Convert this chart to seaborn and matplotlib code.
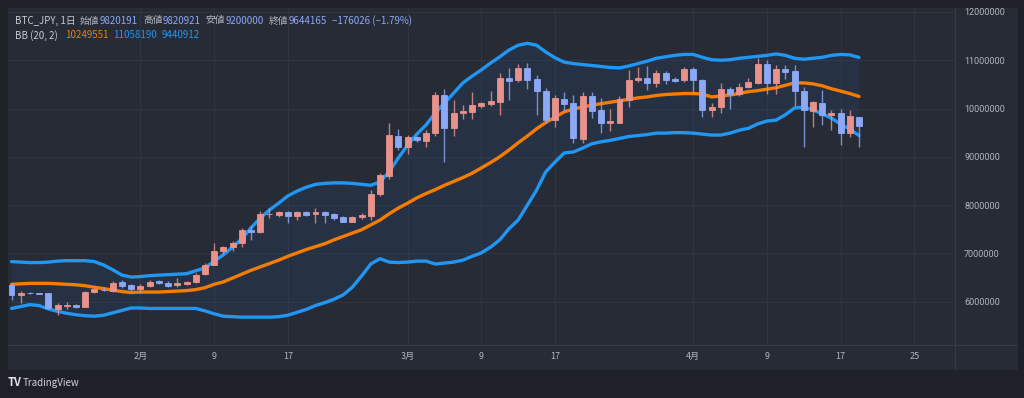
import numpy as np
import pandas as pd
import matplotlib.pyplot as plt
import matplotlib.dates as mdates
from matplotlib.patches import Rectangle
from matplotlib.lines import Line2D
import seaborn as sns

W, H = 1024, 398

OUTER = "#1e2128"
PANEL = "#272b36"
GRID = "#2f3440"
SEP = "#363a46"
TXT = "#b2b5be"
UP = "#e8928b"
DOWN = "#8da8f6"
BAND = "#2196f3"
MID = "#f57c00"

# daily candles, Jan 18 - Apr 19 2024 (values in million JPY)
dates = pd.date_range("2024-01-18", "2024-04-19", freq="D")

open_m = [6.35, 6.13, 6.19, 6.17, 6.17, 5.85, 5.92, 5.93, 5.90, 6.20,
          6.25, 6.23, 6.40, 6.35, 6.26, 6.33, 6.42, 6.39, 6.34, 6.37,
          6.40, 6.57, 6.77, 7.04, 7.13, 7.22, 7.48, 7.45, 7.81, 7.80,
          7.85, 7.77, 7.85, 7.81, 7.85, 7.81, 7.75, 7.66, 7.75, 7.77,
          8.23, 8.60, 9.43, 9.21, 9.40, 9.33, 9.49, 10.29, 9.60, 9.90,
          9.92, 10.06, 10.09, 10.14, 10.63, 10.59, 10.83, 10.61, 10.36, 9.76,
          10.20, 10.11, 9.36, 10.26, 9.97, 9.69, 9.71, 10.18, 10.59, 10.64,
          10.52, 10.73, 10.61, 10.58, 10.81, 10.59, 9.97, 10.04, 10.40, 10.31,
          10.45, 10.53, 10.92, 10.52, 10.82, 10.78, 10.37, 9.95, 10.12, 9.86,
          9.90, 9.49, 9.820191]
high_m = [6.38, 6.23, 6.21, 6.19, 6.19, 5.97, 5.99, 5.95, 6.22, 6.29,
          6.30, 6.42, 6.45, 6.37, 6.37, 6.44, 6.44, 6.42, 6.49, 6.43,
          6.60, 6.80, 7.22, 7.15, 7.25, 7.52, 7.57, 7.87, 7.93, 7.88,
          7.87, 7.88, 7.88, 7.93, 7.88, 7.84, 7.77, 7.77, 7.83, 8.31,
          8.66, 9.69, 9.57, 9.45, 9.43, 9.56, 10.35, 10.40, 10.18, 10.08,
          10.35, 10.14, 10.36, 10.73, 10.83, 10.92, 10.94, 10.69, 10.42, 10.28,
          10.35, 10.28, 10.35, 10.34, 10.22, 10.00, 10.25, 10.80, 10.85, 10.87,
          10.79, 10.78, 10.66, 10.85, 10.86, 10.62, 10.12, 10.53, 10.44, 10.53,
          10.64, 11.04, 11.01, 10.90, 10.91, 10.90, 10.45, 10.16, 10.38, 9.97,
          10.00, 9.97, 9.820921]
low_m = [6.03, 5.97, 6.15, 6.15, 5.84, 5.72, 5.84, 5.87, 5.88, 6.18,
         6.22, 6.21, 6.29, 6.23, 6.18, 6.30, 6.36, 6.31, 6.30, 6.35,
         6.38, 6.55, 6.75, 6.98, 7.05, 7.13, 7.27, 7.42, 7.73, 7.76,
         7.62, 7.70, 7.78, 7.62, 7.62, 7.70, 7.64, 7.64, 7.72, 7.69,
         8.18, 8.55, 9.15, 9.05, 9.30, 9.21, 9.43, 8.90, 9.43, 9.78,
         9.78, 10.02, 10.06, 9.87, 10.18, 10.55, 10.40, 9.87, 9.69, 9.61,
         9.95, 9.28, 9.28, 9.80, 9.50, 9.54, 9.69, 10.04, 10.55, 10.38,
         10.45, 10.50, 10.55, 10.54, 10.35, 9.82, 9.82, 9.90, 10.00, 10.26,
         10.43, 10.50, 10.30, 10.31, 10.61, 10.05, 9.21, 9.62, 9.66, 9.55,
         9.24, 9.41, 9.200000]
close_m = [6.14, 6.19, 6.17, 6.16, 5.86, 5.93, 5.93, 5.90, 6.21, 6.26,
           6.24, 6.39, 6.33, 6.26, 6.32, 6.41, 6.38, 6.33, 6.39, 6.41,
           6.56, 6.77, 7.05, 7.13, 7.22, 7.48, 7.45, 7.81, 7.82, 7.85,
           7.77, 7.85, 7.80, 7.85, 7.80, 7.74, 7.66, 7.75, 7.79, 8.23,
           8.62, 9.45, 9.21, 9.40, 9.34, 9.50, 10.29, 9.60, 9.91, 9.95,
           10.07, 10.11, 10.16, 10.64, 10.56, 10.83, 10.60, 10.36, 9.76, 10.21,
           10.09, 9.38, 10.26, 9.95, 9.69, 9.74, 10.19, 10.60, 10.64, 10.53,
           10.73, 10.60, 10.57, 10.82, 10.59, 9.97, 10.04, 10.40, 10.31, 10.45,
           10.55, 10.92, 10.53, 10.82, 10.76, 10.36, 9.97, 10.13, 9.87, 9.91,
           9.49, 9.84, 9.644165]

# Bollinger bands (20, 2)
bb_upper_m = [6.83, 6.82, 6.81, 6.81, 6.82, 6.84, 6.85, 6.85, 6.85, 6.83,
              6.76, 6.66, 6.55, 6.51, 6.52, 6.54, 6.55, 6.56, 6.57, 6.58,
              6.64, 6.70, 6.84, 6.97, 7.13, 7.30, 7.53, 7.73, 7.90, 8.04,
              8.19, 8.29, 8.37, 8.43, 8.45, 8.46, 8.46, 8.45, 8.43, 8.41,
              8.48, 8.69, 8.98, 9.24, 9.47, 9.66, 9.91, 10.11, 10.32, 10.53,
              10.67, 10.80, 10.94, 11.07, 11.21, 11.31, 11.35, 11.31, 11.17, 11.05,
              10.96, 10.93, 10.91, 10.89, 10.87, 10.85, 10.84, 10.88, 10.93, 10.98,
              11.04, 11.07, 11.10, 11.12, 11.12, 11.06, 11.01, 11.00, 11.01, 11.04,
              11.06, 11.08, 11.10, 11.13, 11.10, 11.04, 11.02, 11.04, 11.06, 11.10,
              11.12, 11.11, 11.058190]
bb_mid_m = [6.36, 6.37, 6.38, 6.38, 6.38, 6.37, 6.36, 6.35, 6.33, 6.30,
            6.27, 6.24, 6.21, 6.19, 6.20, 6.20, 6.20, 6.21, 6.22, 6.23,
            6.25, 6.29, 6.36, 6.41, 6.49, 6.57, 6.65, 6.72, 6.79, 6.86,
            6.94, 7.01, 7.08, 7.14, 7.20, 7.28, 7.35, 7.42, 7.49, 7.59,
            7.69, 7.82, 7.94, 8.04, 8.15, 8.24, 8.32, 8.41, 8.49, 8.57,
            8.66, 8.77, 8.88, 9.00, 9.14, 9.29, 9.43, 9.58, 9.71, 9.82,
            9.93, 9.99, 10.03, 10.07, 10.10, 10.13, 10.16, 10.19, 10.22, 10.24,
            10.27, 10.29, 10.30, 10.31, 10.31, 10.30, 10.24, 10.26, 10.28, 10.31,
            10.35, 10.37, 10.40, 10.43, 10.48, 10.53, 10.53, 10.51, 10.47, 10.41,
            10.36, 10.31, 10.249551]
bb_lower_m = [5.86, 5.90, 5.94, 5.92, 5.85, 5.80, 5.76, 5.73, 5.71, 5.70,
              5.72, 5.77, 5.82, 5.87, 5.87, 5.86, 5.86, 5.86, 5.86, 5.86,
              5.86, 5.81, 5.75, 5.70, 5.69, 5.68, 5.68, 5.68, 5.68, 5.69,
              5.72, 5.78, 5.84, 5.92, 5.98, 6.05, 6.14, 6.30, 6.53, 6.78,
              6.89, 6.82, 6.81, 6.82, 6.84, 6.84, 6.78, 6.80, 6.82, 6.86,
              6.94, 7.01, 7.13, 7.28, 7.51, 7.69, 8.00, 8.31, 8.69, 8.89,
              9.08, 9.10, 9.18, 9.27, 9.31, 9.34, 9.38, 9.42, 9.44, 9.46,
              9.49, 9.49, 9.50, 9.50, 9.49, 9.47, 9.45, 9.45, 9.49, 9.55,
              9.59, 9.68, 9.74, 9.76, 9.87, 10.01, 10.03, 9.97, 9.89, 9.80,
              9.68, 9.57, 9.440912]

tick_dates = ["2024-02-01", "2024-02-09", "2024-02-17", "2024-03-01", "2024-03-09",
              "2024-03-17", "2024-04-01", "2024-04-09", "2024-04-17", "2024-04-25"]
tick_labels = ["2月", "9", "17", "3月", "9", "17", "4月", "9", "17", "25"]
price_ticks = [6000000, 7000000, 8000000, 9000000, 10000000, 11000000, 12000000]

df = pd.DataFrame({
    "date": dates,
    "open": np.array(open_m) * 1e6,
    "high": np.array(high_m) * 1e6,
    "low": np.array(low_m) * 1e6,
    "close": np.array(close_m) * 1e6,
    "upper": np.array(bb_upper_m) * 1e6,
    "mid": np.array(bb_mid_m) * 1e6,
    "lower": np.array(bb_lower_m) * 1e6,
})
df["x"] = mdates.date2num(df["date"])
df["color"] = np.where(df["close"] >= df["open"], UP, DOWN)

sns.set_theme(style="dark")
plt.rcParams["font.family"] = ["Noto Sans CJK JP", "DejaVu Sans"]

fig = plt.figure(figsize=(W / 100, H / 100), dpi=100, facecolor=OUTER)
fig.patches.append(Rectangle((8 / W, 1 - 369 / H), 1009 / W, 361 / H,
                             transform=fig.transFigure, color=PANEL, zorder=-10))

ax = fig.add_axes([8 / W, 1 - 345 / H, 947 / W, 337 / H])
ax.set_zorder(2)
ax.set_facecolor(PANEL)

# band fill + bands
ax.fill_between(df["x"], df["lower"], df["upper"], color=BAND, alpha=0.07, lw=0, zorder=1)
sns.lineplot(data=df, x="x", y="upper", color=BAND, lw=2.4, ax=ax, zorder=3)
sns.lineplot(data=df, x="x", y="lower", color=BAND, lw=2.4, ax=ax, zorder=3)
sns.lineplot(data=df, x="x", y="mid", color=MID, lw=2.4, ax=ax, zorder=3)

# candles
ax.vlines(df["x"], df["low"], df["high"], colors=df["color"], lw=1.0, alpha=0.8, zorder=4)
ax.bar(df["x"], df["close"] - df["open"], bottom=df["open"], width=0.65,
       color=df["color"], edgecolor=df["color"], lw=0.6, zorder=5)

x0 = mdates.date2num(pd.Timestamp("2024-01-18")) - 0.38
ax.set_xlim(x0, x0 + 102.8)
ax.set_ylim(5103500, 12081000)

ax.set_xticks(mdates.date2num(pd.to_datetime(tick_dates)))
ax.set_xticklabels(tick_labels)
ax.yaxis.tick_right()
ax.set_yticks(price_ticks)
ax.set_yticklabels([str(p) for p in price_ticks])
ax.tick_params(axis="x", length=0, pad=5, labelsize=6.5, labelcolor=TXT)
ax.tick_params(axis="y", length=0, pad=6.5, labelsize=6.5, labelcolor=TXT)
for lab in ax.get_yticklabels():
    lab.set_fontfamily(["Roboto", "DejaVu Sans"])
ax.set_xlabel("")
ax.set_ylabel("")
ax.grid(True, color=GRID, lw=0.8)
ax.set_axisbelow(True)
for s in ax.spines.values():
    s.set_visible(False)

# panel separators
fig.add_artist(Line2D([955 / W, 955 / W], [1 - 8 / H, 1 - 369 / H],
                      transform=fig.transFigure, color=SEP, lw=0.8, zorder=3))
fig.add_artist(Line2D([8 / W, 1017 / W], [1 - 345 / H, 1 - 345 / H],
                      transform=fig.transFigure, color=SEP, lw=0.8, zorder=3))

# legend header
def ftext(px, py, s, color, size=7, **kw):
    fig.text(px / W, 1 - py / H, s, color=color, fontsize=size, va="center",
             ha="left", zorder=4, **kw)

ftext(15, 20.5, "BTC_JPY, 1日", "#c8cad1")
ftext(80, 20.5, "始値", TXT)
ftext(100, 20.5, "9820191", DOWN)
ftext(143, 20.5, "高値", TXT)
ftext(163, 20.5, "9820921", DOWN)
ftext(206, 20.5, "安値", TXT)
ftext(226, 20.5, "9200000", DOWN)
ftext(269, 20.5, "終値", TXT)
ftext(289, 20.5, "9644165", DOWN)
ftext(332, 20.5, "−176026 (−1.79%)", DOWN)

ftext(15, 35.5, "BB (20, 2)", "#c8cad1")
ftext(65, 35.5, "10249551", MID)
ftext(113, 35.5, "11058190", BAND)
ftext(162, 35.5, "9440912", BAND)

# logo
ftext(8, 383, "TV", "#e0e3eb", size=8, fontweight="bold")
ftext(23, 383.5, "TradingView", "#d1d4dc", size=7)

fig.savefig("out.png", dpi=100, facecolor=OUTER)
